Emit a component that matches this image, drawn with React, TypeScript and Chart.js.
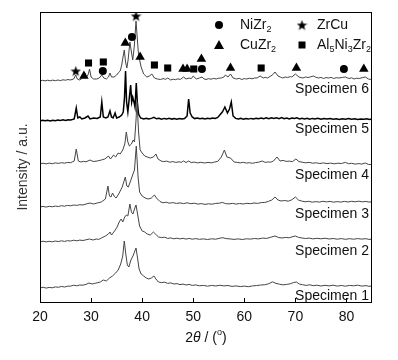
import React, { useEffect, useRef } from 'react';
import { Chart, registerables } from 'chart.js';
Chart.register(...registerables);

type P = [number, number];

const xTickValues = [20, 30, 40, 50, 60, 70, 80];
const specimenNames = ['Specimen 1', 'Specimen 2', 'Specimen 3', 'Specimen 4', 'Specimen 5', 'Specimen 6'];
const specimenLabelY = [6, 51, 88, 127, 173, 213];

const spec1: P[] = [[20,14],[20.6,14.8],[21.2,13.9],[21.8,14.6],[22.4,14.2],[23,15.1],[23.6,14.7],[24.2,15.6],[24.8,15],[25.4,15.8],[26,15.9],[26.6,16.8],[27.2,16.2],[27.8,17],[28.4,16.8],[29,17.6],[29.6,19],[30.2,18],[30.7,18.6],[31.2,19.2],[31.8,20],[32.4,22],[33,21],[33.6,24],[34.2,26],[34.8,29],[35.3,32],[35.8,38],[36.2,46],[36.5,61],[36.8,48],[37.1,37],[37.4,35],[37.8,42],[38.2,46],[38.5,50],[38.8,54],[39.1,44],[39.4,33],[39.8,28],[40.3,26],[40.8,24],[41.3,23],[41.8,24],[42.3,26],[42.7,23],[43.2,20],[43.8,19.4],[44.4,19.8],[45,18.6],[45.6,19.1],[46.2,18],[46.8,18.4],[47.4,17.4],[48,17.9],[48.6,17],[49.2,17.6],[49.8,16.6],[50.5,17.1],[51.2,16.2],[52,16.6],[52.8,15.8],[53.6,16.6],[54.4,16],[55.2,16.7],[56,16.1],[56.8,16.5],[57.6,15.6],[58.4,16.1],[59.2,15.4],[60,15.9],[60.8,15.3],[61.6,16.1],[62.4,16.4],[63.2,17],[64,17.2],[64.8,18.3],[65.5,20.2],[66.2,18.6],[66.9,17.8],[67.6,17.1],[68.3,17.6],[69,18.2],[69.6,19.4],[70.2,20],[70.8,17.9],[71.4,17.3],[72.1,16.6],[72.8,17.2],[73.5,16.3],[74.2,16.8],[75,16],[75.8,16.7],[76.6,16.1],[77.4,16.8],[78.2,15.9],[79,16.5],[79.8,15.8],[80.6,16.6],[81.4,16.2],[82.2,16.8],[83,15.9],[83.8,16.4],[84.4,15.7],[85,16]];

const spec2: P[] = [[20,60],[20.6,60.8],[21.2,60.1],[21.8,60.7],[22.4,60.2],[23,61],[23.6,60.4],[24.2,61.2],[24.8,60.6],[25.4,61.3],[26,61],[26.6,61.8],[27.2,61.2],[27.8,61.9],[28.4,61.5],[29,62.2],[29.7,63],[30.4,62],[31,63],[31.5,62.6],[32,64],[32.8,66],[33.4,68],[33.7,70],[34,67],[34.6,71],[35.1,75],[35.5,80],[35.9,83],[36.2,80],[36.6,85],[36.9,87],[37.2,86],[37.6,98],[37.9,90],[38.2,88],[38.5,93],[38.8,97],[39.1,88],[39.5,76],[40,71],[40.5,70],[41,68],[41.6,67],[42.2,70],[42.6,68],[43.2,65],[43.8,64.4],[44.4,64.8],[45,63.6],[45.6,64.1],[46.2,63.2],[46.8,63.8],[47.4,63.1],[48,63.7],[48.6,62.9],[49.2,63.6],[49.8,62.8],[50.5,63.4],[51.2,62.7],[52,63.1],[52.8,62.5],[53.6,63.2],[54.4,62.8],[55.2,63.8],[55.8,64.3],[56.4,63.4],[57.2,63.1],[58,62.6],[58.8,63.1],[59.6,62.5],[60.4,63.2],[61.2,62.9],[62,63.5],[62.8,63.1],[63.6,63.9],[64.4,63.6],[65.2,64.8],[66,66],[66.7,64.5],[67.4,64],[68.1,64.6],[68.8,64.2],[69.5,65.4],[70,66],[70.6,64.6],[71.3,64],[72,63.5],[72.7,63.9],[73.4,63.1],[74.2,63.7],[75,63.2],[75.8,63.8],[76.6,63],[77.4,63.5],[78.2,62.8],[79,63.4],[79.8,62.7],[80.6,63.3],[81.4,62.8],[82.2,63.4],[83,62.9],[83.8,63.3],[84.4,62.6],[85,62.8]];

const spec3: P[] = [[20,95],[20.6,95.6],[21.2,94.9],[21.8,95.7],[22.4,95.2],[23,95.9],[23.6,95.5],[24.2,96.3],[24.8,95.8],[25.4,96.6],[26,96.2],[26.6,97],[27.2,96.6],[27.8,97.3],[28.4,97],[29,98],[29.8,99],[30.5,98],[31.2,99],[32,100],[32.8,103],[33.3,116],[33.6,106],[33.9,105],[34.2,109],[34.5,106],[34.9,104],[35.4,108],[35.8,112],[36.1,115],[36.4,120],[36.7,125],[37,116],[37.3,115],[37.8,122],[38.2,128],[38.5,132],[38.85,156],[39.2,125],[39.5,110],[40,106],[40.6,104],[41.2,103],[41.8,104],[42.4,107],[42.8,104],[43.5,100.4],[44.1,99.2],[44.7,99.8],[45.3,98.8],[46,99.4],[46.7,98.6],[47.4,99.1],[48.1,98.4],[48.8,99.2],[49.5,98.3],[50.2,98.8],[50.9,97.9],[51.6,98.4],[52.3,97.6],[53,98.2],[53.7,97.8],[54.4,98.6],[55.1,98.8],[55.7,99.6],[56.3,98.4],[57,98.1],[57.7,98.6],[58.4,97.9],[59.1,98.5],[59.8,98],[60.5,98.7],[61.2,98.3],[61.9,99],[62.6,98.6],[63.3,99.4],[64,99.5],[64.7,100.6],[65.4,102],[66,105],[66.6,102],[67.2,101],[67.9,101.5],[68.6,100.8],[69.3,102.2],[70,105],[70.6,102],[71.2,101],[71.9,100.2],[72.6,100.7],[73.3,99.8],[74,100.4],[74.7,99.9],[75.4,100.7],[76.1,100.1],[76.8,100.6],[77.5,99.8],[78.2,100.4],[78.9,99.9],[79.6,100.6],[80.3,100],[81,100.7],[81.7,100.2],[82.4,100.8],[83.1,100.1],[83.8,100.6],[84.4,99.9],[85,100.3]];

const spec4: P[] = [[20,138],[20.6,138.8],[21.2,138.1],[21.8,138.9],[22.4,138.3],[23,139.1],[23.6,138.6],[24.2,139.3],[24.8,138.8],[25.4,139.6],[26,139.3],[26.7,141],[27.1,153],[27.5,141],[28,140],[28.5,140.6],[29,140.2],[29.8,142],[30.4,140.5],[31.2,141],[32,142],[32.7,143],[33.4,146],[33.8,143],[34.4,147],[34.8,145],[35.3,149],[35.7,148],[36.2,152],[36.6,158],[36.9,170],[37.2,160],[37.5,156],[37.9,158],[38.25,162],[38.5,160],[38.75,178],[39.0,200],[39.3,170],[39.6,152],[40,149],[40.5,146],[41,145],[41.6,144],[42.2,145],[42.7,148],[43.1,143],[43.7,141],[44.2,140.4],[44.8,140.9],[45.4,139.8],[46,140.4],[46.6,139.6],[47.2,140.2],[47.7,139.7],[48.1,141],[48.6,139.5],[49.1,141],[49.6,139.4],[50.2,139.9],[50.8,139.1],[51.5,139.7],[52.2,139],[52.9,139.6],[53.6,139.2],[54.2,140],[54.8,140.6],[55.5,145],[56.1,152],[56.6,145],[57.3,144],[58,140],[58.6,139.6],[59.2,139.1],[59.8,139.7],[60.4,138.9],[61,139.3],[61.6,138.7],[62.2,139.4],[62.8,139.8],[63.5,141],[64.1,139.6],[64.7,140.1],[65.2,139.8],[65.7,141],[66.4,145],[67,141],[67.6,141.6],[68.2,140.6],[68.8,140.9],[69.4,140.3],[70.1,143],[70.7,140.4],[71.3,139.8],[72,139.2],[72.7,139.6],[73.4,138.8],[74.1,139.2],[74.8,138.5],[75.5,139.1],[76.2,138.4],[76.9,138.9],[77.6,138.2],[78.3,138.8],[79,138.5],[79.8,139.6],[80.4,138.3],[81,138.7],[81.7,137.9],[82.4,138.4],[83,137.9],[83.7,139],[84.3,137.6],[85,137.4]];

const spec5: P[] = [[20,181],[20.5,181.7],[21,181.2],[21.5,181.8],[22,181.1],[22.5,181.7],[23,181.3],[23.5,182],[24,181.6],[24.5,182.2],[25,181.5],[25.5,182.3],[26,182],[26.7,183],[27.1,194],[27.4,184],[27.8,185],[28.2,183],[28.8,184],[29.4,186],[29.8,183],[30.5,184],[31.2,183.5],[31.8,185],[32.1,200],[32.4,185],[32.9,184],[33.3,185],[33.7,191],[34,185],[34.3,184],[34.7,189],[35,184],[35.5,185],[36.0,187],[36.3,190],[36.55,205],[36.75,231],[36.95,200],[37.2,190],[37.5,205],[37.75,217],[37.95,200],[38.15,205],[38.4,200],[38.6,195],[38.85,219],[39.05,200],[39.3,188],[39.7,184],[40.3,183],[40.8,183.8],[41.3,183.1],[41.8,183.6],[42.3,184.6],[42.8,183.2],[43.3,183.7],[43.8,182.9],[44.3,183.6],[44.8,183],[45.3,183.7],[45.8,182.9],[46.3,183.5],[46.8,182.8],[47.3,183.4],[47.8,182.9],[48.3,183.5],[48.8,186],[49.1,203],[49.4,189],[49.8,185],[50.3,183.4],[50.8,184],[51.3,183.2],[51.8,183.8],[52.3,183.1],[52.8,183.7],[53.3,183.2],[53.8,184],[54.3,183.5],[54.8,184.6],[55.2,187],[55.7,190],[56.2,195],[56.7,189],[57.1,193],[57.45,200],[57.8,186],[58.3,183.6],[58.8,183],[59.3,183.6],[59.8,182.8],[60.3,183.5],[60.8,182.9],[61.3,183.6],[61.8,183],[62.3,183.8],[62.8,183.2],[63.3,184],[63.8,183.3],[64.3,184.1],[64.8,183.4],[65.3,184.3],[65.8,183.5],[66.3,184.2],[66.8,183.4],[67.3,184.4],[67.8,183.2],[68.3,183.9],[68.8,183.1],[69.3,184],[69.8,183.5],[70.3,184.3],[70.8,183.1],[71.3,183.8],[71.8,183],[72.3,183.7],[72.8,182.9],[73.3,183.6],[73.8,183],[74.4,183.7],[75,182.8],[75.6,183.5],[76.2,182.9],[76.8,183.4],[77.4,182.7],[78,183.3],[78.6,182.6],[79.2,183.3],[79.8,182.8],[80.4,183.4],[81,182.7],[81.6,183.2],[82.2,182.5],[82.8,183.1],[83.4,182.7],[84,183.3],[84.5,182.6],[85,183]];

const spec6: P[] = [[20,221],[20.5,221.7],[21,221.1],[21.5,221.8],[22,221.2],[22.5,221.9],[23,221.3],[23.5,222],[24,221.4],[24.5,222.2],[25,221.8],[25.5,222.5],[25.9,222],[26.6,223],[27,227],[27.3,223],[27.8,222],[28.3,224],[28.8,229],[29.1,225],[29.4,227],[29.7,233],[30,225],[30.5,223],[31.1,223],[31.6,224],[32.1,227],[32.5,224],[33,223],[33.4,225],[33.7,229],[34,225],[34.5,225],[35,227],[35.3,229],[35.7,231],[36.0,237],[36.25,245],[36.5,252],[36.75,240],[37.0,234],[37.25,242],[37.6,260],[37.9,250],[38.15,242],[38.45,255],[38.8,281],[39.1,260],[39.3,247],[39.8,235],[40.3,228],[40.9,225],[41.4,226],[41.9,228],[42.4,224],[43,223],[43.6,222.5],[44.1,223.4],[44.6,222.7],[45,224],[45.6,222],[46.1,222.8],[46.5,222.3],[47,223.1],[47.5,222.6],[48.1,225],[48.6,223],[49.2,224],[49.6,223.3],[50,226],[50.6,223],[51.2,224],[51.7,225],[52.1,223.2],[52.5,222.5],[53,223.3],[53.5,222.8],[54,223.6],[54.5,223],[55,223.8],[55.5,224],[56,225],[56.3,227],[56.8,225],[57.3,228],[57.8,224],[58.2,223.4],[58.5,223],[59,223.7],[59.5,222.5],[60,223.4],[60.5,223],[61,223.8],[61.5,223.2],[62,224],[62.5,224],[63.1,226],[63.7,224],[64.1,224.6],[64.5,224],[65.2,226],[65.6,227.5],[66,230],[66.6,226],[67.1,224.8],[67.5,224],[68,225],[68.5,224.5],[69,225.4],[69.3,225],[70,228],[70.7,225],[71.1,224.4],[71.5,224],[72,225],[72.5,224.5],[73,225.2],[73.5,226],[74,224.8],[74.5,224],[75,224.6],[75.5,223.5],[76,224.4],[76.5,224],[77,224.6],[77.5,223.5],[78,224.3],[78.5,224],[79.2,224.6],[79.8,225],[80.2,224.1],[80.5,223.5],[81,224.2],[81.5,223],[82,223.8],[82.5,223.5],[83.1,224.3],[83.7,225],[84.3,223],[84.7,222.6],[85,222]];

const niZr2: P[] = [[32.3,231],[38.0,265],[51.7,233],[79.5,233]];
const zrCu: P[] = [[27.0,231],[38.8,286]];
const cuZr2: P[] = [[28.6,226],[36.7,259],[39.6,245],[48.0,233],[48.8,233],[51.6,243],[57.3,234],[70.2,234],[83.4,233]];
const al5Ni3Zr2: P[] = [[29.5,239],[32.4,240],[42.4,237],[45.0,234],[50.1,233],[63.3,234]];

const FONT = '"Liberation Sans", Arial, sans-serif';

function makeStar(size: number): HTMLCanvasElement {
  const c = document.createElement('canvas');
  c.width = size; c.height = size;
  const g = c.getContext('2d')!;
  const cx = size / 2, cy = size / 2 + 0.5, R = size / 2, r = R * 0.42;
  g.beginPath();
  for (let i = 0; i < 10; i++) {
    const a = -Math.PI / 2 + (i * Math.PI) / 5;
    const rr = i % 2 ? r : R;
    g.lineTo(cx + rr * Math.cos(a), cy + rr * Math.sin(a));
  }
  g.closePath();
  g.fillStyle = '#000';
  g.fill();
  return c;
}

type Part = [string, 'n' | 'sub' | 'sup' | 'it'];

function drawRich(ctx: CanvasRenderingContext2D, parts: Part[], x: number, y: number, size: number, align: 'left' | 'center') {
  const fontFor = (k: string) => (k === 'sub' || k === 'sup') ? `${Math.round(size * 0.65)}px ${FONT}` : (k === 'it' ? `italic ${size}px ${FONT}` : `${size}px ${FONT}`);
  let total = 0;
  for (const [t, k] of parts) { ctx.font = fontFor(k); total += ctx.measureText(t).width; }
  let cx = align === 'center' ? x - total / 2 : x;
  ctx.textAlign = 'left';
  ctx.textBaseline = 'middle';
  for (const [t, k] of parts) {
    ctx.font = fontFor(k);
    const dy = k === 'sub' ? size * 0.35 : k === 'sup' ? -size * 0.4 : 0;
    ctx.fillText(t, cx, y + dy);
    cx += ctx.measureText(t).width;
  }
}

const decorPlugin = {
  id: 'decor',
  afterDraw(chart: any) {
    const ctx: CanvasRenderingContext2D = chart.ctx;
    const { left, right, top, bottom } = chart.chartArea;
    const xs = chart.scales.x;
    const ys = chart.scales.y;
    ctx.save();
    ctx.strokeStyle = '#000';
    ctx.lineWidth = 1;
    ctx.strokeRect(left + 0.5, top + 0.5, right - left - 1, bottom - top);
    ctx.beginPath();
    for (const v of xTickValues) {
      const px = Math.round(xs.getPixelForValue(v)) + 0.5;
      ctx.moveTo(px, bottom);
      ctx.lineTo(px, bottom - 4);
    }
    ctx.stroke();
    ctx.fillStyle = '#111';
    ctx.font = `14px ${FONT}`;
    ctx.textAlign = 'right';
    ctx.textBaseline = 'middle';
    specimenNames.forEach((n, i) => ctx.fillText(n, right - 3, ys.getPixelForValue(specimenLabelY[i])));
    const lx1 = left + 179, lx2 = left + 262, ly1 = top + 13, ly2 = top + 33;
    ctx.fillStyle = '#000';
    ctx.beginPath(); ctx.arc(lx1, ly1, 4, 0, Math.PI * 2); ctx.fill();
    const star = makeStar(11);
    ctx.drawImage(star, lx2 - 5.5, ly1 - 5.5);
    ctx.beginPath(); ctx.moveTo(lx1, ly2 - 5); ctx.lineTo(lx1 + 5, ly2 + 4); ctx.lineTo(lx1 - 5, ly2 + 4); ctx.closePath(); ctx.fill();
    ctx.fillRect(lx2 - 3.5, ly2 - 3.5, 7, 7);
    ctx.fillStyle = '#111';
    drawRich(ctx, [['NiZr', 'n'], ['2', 'sub']], lx1 + 21, ly1, 14, 'left');
    drawRich(ctx, [['ZrCu', 'n']], lx2 + 15, ly1, 14, 'left');
    drawRich(ctx, [['CuZr', 'n'], ['2', 'sub']], lx1 + 21, ly2, 14, 'left');
    drawRich(ctx, [['Al', 'n'], ['5', 'sub'], ['Ni', 'n'], ['3', 'sub'], ['Zr', 'n'], ['2', 'sub']], lx2 + 15, ly2, 14, 'left');
    drawRich(ctx, [['2', 'n'], ['\u03b8', 'it'], [' / (', 'n'], ['o', 'sup'], [')', 'n']], (left + right) / 2, 338, 14, 'center');
    ctx.translate(23, (top + bottom) / 2 + 10);
    ctx.rotate(-Math.PI / 2);
    ctx.font = `14px ${FONT}`;
    ctx.textAlign = 'center';
    ctx.textBaseline = 'middle';
    ctx.fillStyle = '#333';
    ctx.fillText('Intensity / a.u.', 0, 0);
    ctx.restore();
  },
};

export default function App() {
  const ref = useRef<HTMLCanvasElement>(null);
  useEffect(() => {
    if (!ref.current) return;
    const star = makeStar(11);
    const toXY = (a: P[]) => a.map(([x, y]) => ({ x, y }));
    const specs = [spec1, spec2, spec3, spec4, spec5, spec6];
    const lineSets = specs.map((s, i) => ({
      type: 'line' as const,
      label: specimenNames[i],
      data: toXY(s),
      borderColor: i === 4 ? '#000' : '#444',
      borderWidth: i === 4 ? 1.5 : 1,
      pointRadius: 0,
      tension: 0,
      fill: false,
      order: 2,
    }));
    const mk = (label: string, d: P[], style: any, r: number) => ({
      type: 'scatter' as const,
      label,
      data: toXY(d),
      pointStyle: style,
      pointRadius: r,
      backgroundColor: '#000',
      borderColor: '#000',
      borderWidth: 0,
      order: 1,
    });
    const chart = new Chart(ref.current, {
      type: 'line',
      data: {
        datasets: [
          mk('NiZr2', niZr2, 'circle', 4),
          mk('ZrCu', zrCu, star, 5),
          mk('CuZr2', cuZr2, 'triangle', 5.5),
          mk('Al5Ni3Zr2', al5Ni3Zr2, 'rect', 5),
          ...lineSets,
        ] as any,
      },
      options: {
        animation: false,
        responsive: false,
        maintainAspectRatio: false,
        layout: { padding: { left: 40, right: 26, top: 12, bottom: 0 } },
        plugins: { legend: { display: false }, tooltip: { enabled: false } },
        scales: {
          x: {
            type: 'linear',
            min: 20,
            max: 85,
            afterBuildTicks: (s: any) => { s.ticks = s.ticks.filter((t: any) => t.value % 10 === 0); },
            afterFit: (s: any) => { s.height = 58; },
            ticks: { stepSize: 10, color: '#111', font: { family: FONT, size: 14 }, padding: 7, maxRotation: 0 },
            grid: { display: false, drawTicks: false },
            border: { display: false },
          },
          y: {
            type: 'linear',
            min: 0,
            max: 290,
            display: false,
          },
        },
      },
      plugins: [decorPlugin],
    });
    return () => chart.destroy();
  }, []);
  return (
    <div style={{ position: 'absolute', left: 0, top: 0, width: 398, height: 360, background: '#fff' }}>
      <canvas ref={ref} width={398} height={360} style={{ width: 398, height: 360 }} />
    </div>
  );
}
